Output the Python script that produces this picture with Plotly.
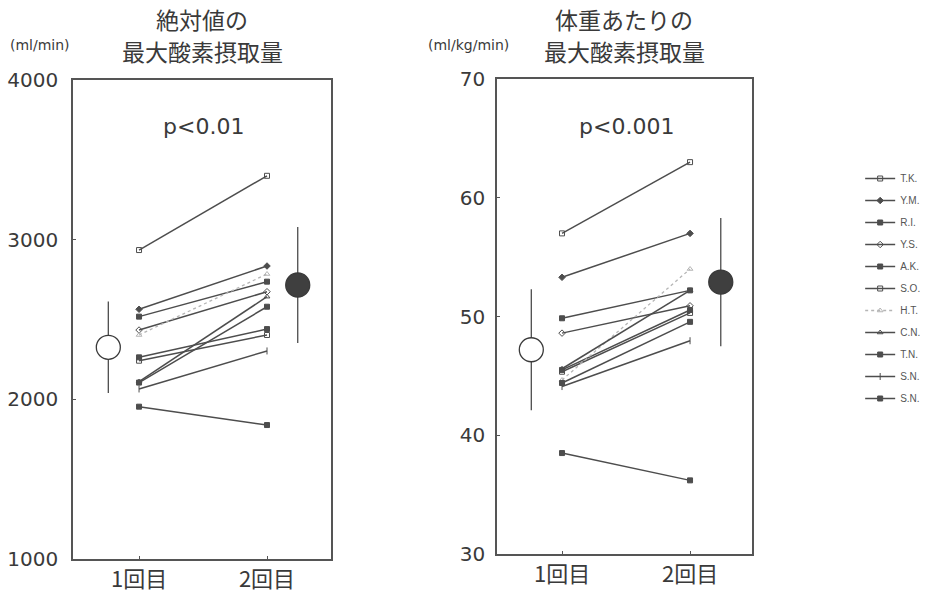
import plotly.graph_objects as go

# Subjects and sessions
subjects = ["T.K.", "Y.M.", "R.I.", "Y.S.", "A.K.", "S.O.", "H.T.", "C.N.", "T.N.", "S.N.", "S.N."]
sessions = ["1回目", "2回目"]

# Absolute VO2max (ml/min), first and second test
abs_first = [2935, 2564, 2518, 2434, 2263, 2242, 2403, 2111, 2105, 2065, 1954]
abs_second = [3400, 2835, 2737, 2674, 2440, 2403, 2785, 2643, 2580, 2303, 1839]

# VO2max per body weight (ml/kg/min), first and second test
rel_first = [57.0, 53.3, 49.85, 48.6, 45.5, 45.35, 44.65, 45.6, 44.4, 44.1, 38.5]
rel_second = [63.0, 57.0, 52.2, 50.9, 50.55, 50.3, 54.0, 52.2, 49.55, 47.96, 36.2]

# Group mean and SD per session
abs_mean = [2326, 2716]
abs_sd = [287, 363]
rel_mean = [47.2, 52.9]
rel_sd = [5.1, 5.4]

abs_ticks = [1000, 2000, 3000, 4000]
rel_ticks = [30, 40, 50, 60, 70]

symbols = ["square-open", "diamond", "square", "diamond-open", "square", "square-open",
           "triangle-up-open", "triangle-up-open", "square", "line-ns-open", "square"]

LINE = "#4d4d4d"
AXIS = "#555555"
TXT = "#3a3a3a"
NUM_FONT = "DejaVu Sans"
JP_FONT = "Noto Sans CJK JP"

sx = [1, 2]
mean_x = [sx[0] - 0.24, sx[1] + 0.24]

fig = go.Figure()

for panel, (first, second, xa, ya) in enumerate([
        (abs_first, abs_second, "x", "y"),
        (rel_first, rel_second, "x2", "y2")]):
    for i, name in enumerate(subjects):
        dotted = name == "H.T."
        col = "#b5b5b5" if dotted else LINE
        fig.add_trace(go.Scatter(
            x=sx, y=[first[i], second[i]], xaxis=xa, yaxis=ya,
            mode="lines+markers", name=name,
            legendgroup=f"s{i}", showlegend=(panel == 0),
            line=dict(color=col, width=1.3 if dotted else 1.5,
                      dash="dot" if dotted else "solid"),
            marker=dict(symbol=symbols[i], size=5, color=col,
                        line=dict(color=col, width=1)),
        ))

# Mean +/- SD markers: open for the first test, filled for the second
for mean, sd, xa, ya in [(abs_mean, abs_sd, "x", "y"), (rel_mean, rel_sd, "x2", "y2")]:
    for k in range(2):
        fig.add_trace(go.Scatter(
            x=[mean_x[k]], y=[mean[k]], xaxis=xa, yaxis=ya, mode="markers",
            showlegend=False,
            error_y=dict(type="data", array=[sd[k]], visible=True, color=LINE,
                         thickness=1.3, width=0),
            marker=dict(symbol="circle", size=24,
                        color="white" if k == 0 else "#3f3f3f",
                        line=dict(color="#3a3a3a", width=1.3)),
        ))

axis_common = dict(showline=True, linecolor=AXIS, linewidth=1.6, mirror=True,
                   showgrid=False, zeroline=False, ticks="inside", ticklen=3,
                   tickcolor=AXIS, automargin=False)

fig.update_layout(
    width=937, height=592,
    margin=dict(l=0, r=0, t=0, b=0, autoexpand=False),
    paper_bgcolor="white", plot_bgcolor="white",
    xaxis=dict(domain=[73 / 937, 331 / 937], range=[0.484, 2.5],
               tickvals=sx, ticktext=sessions, anchor="y",
               tickfont=dict(family=JP_FONT, size=22, color=TXT), **axis_common),
    yaxis=dict(domain=[1 - 559 / 592, 1 - 80 / 592], range=[1000, 4000],
               tickvals=abs_ticks, anchor="x", ticklabelstandoff=9,
               tickfont=dict(family=NUM_FONT, size=20, color=TXT), **axis_common),
    xaxis2=dict(domain=[497 / 937, 752 / 937], range=[0.492, 2.484],
                tickvals=sx, ticktext=sessions, anchor="y2",
                tickfont=dict(family=JP_FONT, size=22, color=TXT), **axis_common),
    yaxis2=dict(domain=[1 - 554 / 592, 1 - 79 / 592], range=[30, 70],
                tickvals=rel_ticks, anchor="x2", ticklabelstandoff=6,
                tickfont=dict(family=NUM_FONT, size=20, color=TXT), **axis_common),
    legend=dict(x=0.918, y=1 - 164 / 592, xanchor="left", yanchor="top",
                font=dict(family="Liberation Sans", size=10, color="#555555"),
                tracegroupgap=3, bgcolor="rgba(0,0,0,0)"),
    font=dict(family=NUM_FONT, color=TXT),
)

# Significance labels inside each panel
fig.add_annotation(x=1.5, y=3710, xref="x", yref="y", text="p<0.01", showarrow=False,
                   font=dict(family=NUM_FONT, size=22, color=TXT))
fig.add_annotation(x=1.5, y=66.0, xref="x2", yref="y2", text="p<0.001", showarrow=False,
                   font=dict(family=NUM_FONT, size=22, color=TXT))

# Panel titles, one annotation per line, and unit labels
titles = [(("絶対値の", "最大酸素摂取量"), 202 / 937),
          (("体重あたりの", "最大酸素摂取量"), 624 / 937)]
for lines, cx in titles:
    for text, ty in zip(lines, (19, 51)):
        fig.add_annotation(x=cx, y=1 - ty / 592, xref="paper", yref="paper", text=text,
                           xanchor="center", yanchor="middle", borderpad=0,
                           showarrow=False, font=dict(family=JP_FONT, size=23, color=TXT))

units = [("(ml/min)", 40 / 937), ("(ml/kg/min)", 468 / 937)]
for text, cx in units:
    fig.add_annotation(x=cx, y=1 - 45 / 592, xref="paper", yref="paper", text=text,
                       xanchor="center", yanchor="middle",
                       showarrow=False, font=dict(family=NUM_FONT, size=14, color=TXT))

fig.write_html("out.html")
